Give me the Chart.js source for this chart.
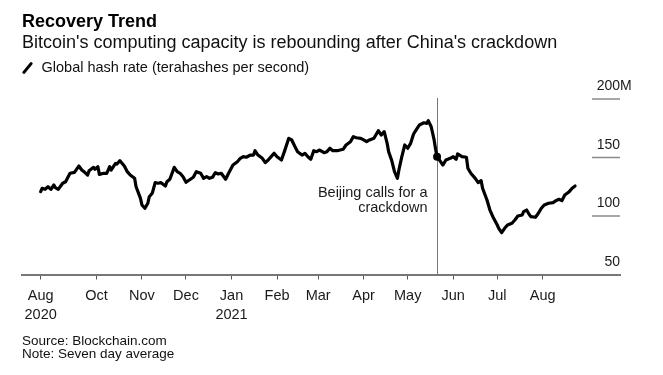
<!DOCTYPE html>
<html>
<head>
<meta charset="utf-8">
<script src="https://cdn.jsdelivr.net/npm/chart.js@4/dist/chart.umd.min.js"></script>
<style>
  html, body { margin:0; padding:0; background:#fff; }
  body { width:663px; height:375px; position:relative; overflow:hidden; font-family:"Liberation Sans", Arial, sans-serif; color:#111; }
  canvas { position:absolute; left:0; top:0; }
  .t { position:absolute; white-space:nowrap; line-height:1; }
  #title { left:22px; top:12px; font-size:18px; font-weight:bold; color:#000; }
  #subtitle { left:22px; top:33px; font-size:18px; color:#111; }
  #legend { left:41.5px; top:60.4px; font-size:14.5px; color:#111; }
  #legicon { position:absolute; left:26px; top:60.5px; width:3px; height:14px; background:#000; transform:rotate(39deg); border-radius:1px; }
  #source { left:22px; top:333.6px; font-size:13.5px; color:#111; }
  #note { left:22px; top:347px; font-size:13.5px; color:#111; }
</style>
</head>
<body>
<canvas id="c" width="663" height="375"></canvas>
<div class="t" id="title">Recovery Trend</div>
<div class="t" id="subtitle">Bitcoin's computing capacity is rebounding after China's crackdown</div>
<div id="legicon"></div>
<div class="t" id="legend">Global hash rate (terahashes per second)</div>
<div class="t" id="source">Source: Blockchain.com</div>
<div class="t" id="note">Note: Seven day average</div>
<script>
// Days since 2020-08-24 (first observation)
const days = [0,1,3,5,7,9,10,12,15,17,20,23,26,28,30,32,33,36,37,39,40,43,45,47,48,51,52,54,57,59,61,64,65,68,69,71,73,74,76,78,80,82,85,86,88,91,93,95,97,99,102,104,106,109,111,113,115,117,119,121,123,126,128,131,134,136,138,140,143,145,146,148,151,153,155,157,159,161,164,166,169,171,173,175,178,180,182,184,186,188,190,193,195,197,199,202,204,206,208,211,213,215,218,220,222,224,227,229,230,232,234,236,237,239,241,243,244,246,248,250,252,254,256,258,261,263,264,266,268,269,270,274,276,279,281,283,284,287,290,291,293,296,298,300,301,304,306,308,311,312,314,316,318,321,323,325,328,329,331,333,334,337,339,341,343,346,349,351,353,355,357,360,362,364];
// Global hash rate, million TH/s (7-day average)
const hashRate = [120.8,123.7,122.8,125,122.8,126.5,124.2,122.8,128,129.3,136.5,137.3,142.7,139.3,137.3,135,138.7,141.6,139.9,142.1,135.6,136.5,136.5,142.1,139.3,145,144.4,147.3,142.7,137.9,135,132.2,125,115.1,109.4,106.6,110.9,116.5,119.4,128.5,128,128.5,125.6,129.3,131.4,141.6,137.9,136.5,133.6,128.8,131.4,133.1,137.9,136.5,132.2,133.6,132.2,133.1,137,135.9,136.5,131.4,136.5,143.6,146.4,149.3,150.7,150.2,152.1,152.1,155.8,152.1,149.3,145.6,147.9,150.7,153.6,150.7,147.9,155,166.4,165,159.8,155,152.1,153.6,150.7,148.5,155.8,155,156.4,154.1,155,157.9,155.8,155.8,156.4,157,160.7,163.5,167.8,166.9,166.4,165,163.5,165,166.4,170.7,172.9,169.2,172.1,162.1,155,147.9,137.9,132.2,139.3,150.7,160.7,157.9,162.1,170.1,174.1,177.8,179.7,179.2,181.5,176.3,165,157,150.7,143.6,147.9,149.3,150.7,148.5,153,150.7,150.2,140.8,136.5,132.2,128.5,130.2,123.7,113.7,105.1,99.4,92.3,89.5,85.7,89.5,92.3,93.8,96.6,100,100.9,103.7,105.1,100.9,99.4,98.9,102.3,106.6,109.4,110.9,111.4,113.1,114.3,113.1,117.9,120.8,123.7,125.6];
// x-axis ticks (days since 2020-08-24) and labels
const tickDays = [0,38,69,99,130,161,189,220,250,281,311,342];
const tickLabels = [["Aug","2020"],"Oct","Nov","Dec",["Jan","2021"],"Feb","Mar","Apr","May","Jun","Jul","Aug"];
// y-axis ticks
const yTicks = [50,100,150,200];
const yLabels = ["50","100","150","200M"];
// annotation: May 21, 2021
const eventDay = 270;
const eventLabel = ["Beijing calls for a","crackdown"];
const eventLabelValue = 116.5;

const FONT = '"Liberation Sans", Arial, sans-serif';

const overlay = {
  id:'overlay',
  beforeDatasetsDraw(chart){
    const {ctx, chartArea, scales:{x,y}} = chart;
    const px = Math.round(x.getPixelForValue(eventDay)) + 0.5;
    ctx.save();
    ctx.strokeStyle = '#777';
    ctx.lineWidth = 1;
    ctx.beginPath();
    ctx.moveTo(px, y.getPixelForValue(200) - 1);
    ctx.lineTo(px, chartArea.bottom);
    ctx.stroke();
    // y gridline stubs and labels
    ctx.strokeStyle = '#8a8a8a';
    ctx.lineWidth = 1.5;
    ctx.font = '14px ' + FONT;
    ctx.fillStyle = '#1a1a1a';
    ctx.textBaseline = 'alphabetic';
    const right = chartArea.right;
    yTicks.forEach((v,i)=>{
      const py = y.getPixelForValue(v);
      if (v !== yTicks[0]) {
        ctx.beginPath();
        ctx.moveTo(right - 28, py);
        ctx.lineTo(right, py);
        ctx.stroke();
      }
      const lab = yLabels[i];
      const num = lab.replace('M','');
      const w = ctx.measureText(num).width;
      ctx.textAlign = 'left';
      ctx.fillText(lab, right - w, py - 9);
    });
    // annotation
    ctx.font = '14.5px ' + FONT;
    ctx.textAlign = 'right';
    const by = y.getPixelForValue(eventLabelValue);
    eventLabel.forEach((s,i)=>ctx.fillText(s, px - 10, by + i*15.6));
    ctx.restore();
  }
};

new Chart(document.getElementById('c'), {
  type:'line',
  data:{
    datasets:[{
      data: days.map((d,i)=>({x:d, y:hashRate[i]})),
      borderColor:'#000',
      borderWidth:3.2,
      borderJoinStyle:'round',
      borderCapStyle:'round',
      tension:0,
      pointRadius: ctx => (ctx.raw && ctx.raw.x === eventDay) ? 4 : 0,
      pointBackgroundColor:'#000',
      pointBorderWidth:0,
      fill:false
    }]
  },
  options:{
    responsive:false,
    animation:false,
    events:[],
    layout:{padding:{left:22,right:43,top:99,bottom:0}},
    plugins:{legend:{display:false},title:{display:false},tooltip:{enabled:false}},
    scales:{
      x:{
        type:'linear',
        min:-12.7, max:394.6,
        afterBuildTicks: s => { s.ticks = tickDays.map(v=>({value:v})); },
        afterFit: s => { s.height = 100.5; },
        ticks:{
          autoSkip:false, maxRotation:0, minRotation:0,
          color:'#1a1a1a',
          font:{family:FONT, size:14.5, lineHeight:1.3},
          padding:7,
          callback:(v,i)=>tickLabels[i]
        },
        grid:{drawOnChartArea:false, drawTicks:true, tickLength:5, color:'#555', lineWidth:1},
        border:{display:true, color:'#777', width:2}
      },
      y:{display:false, min:50, max:200}
    }
  },
  plugins:[overlay]
});
</script>
</body>
</html>
